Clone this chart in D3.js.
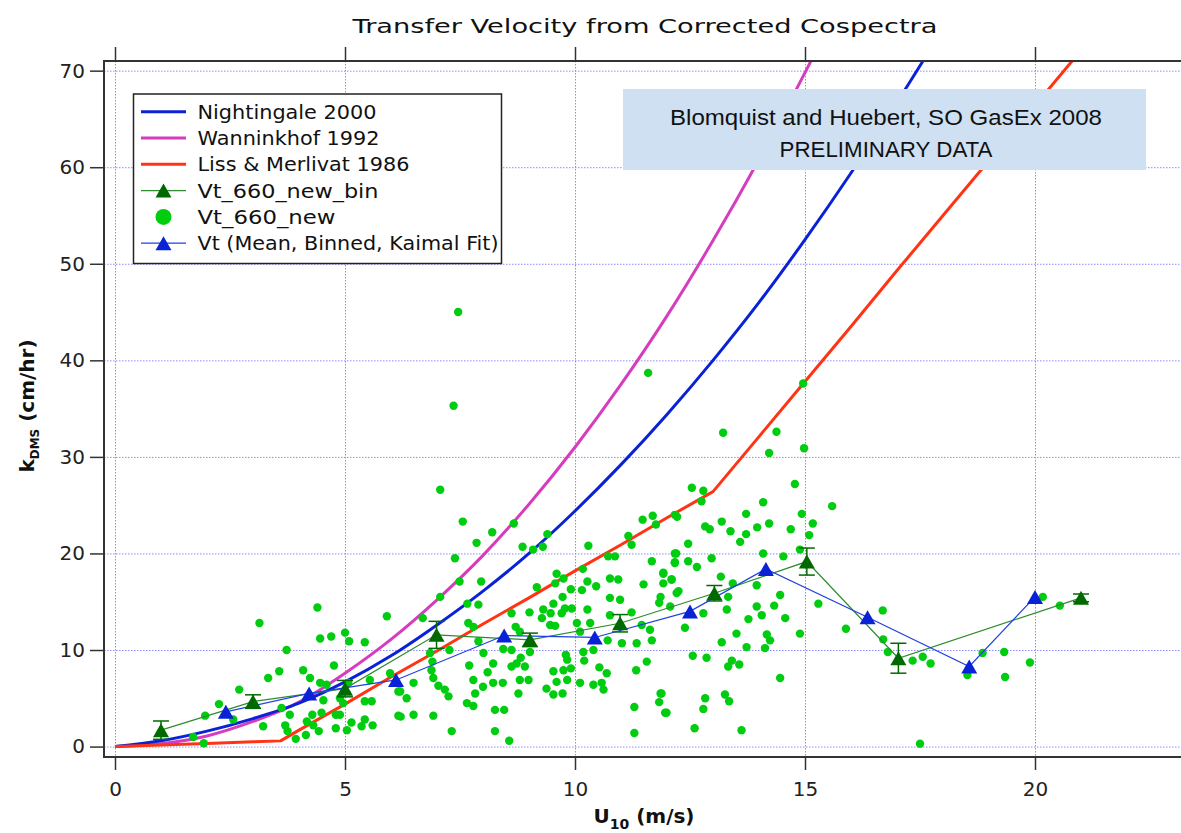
<!DOCTYPE html>
<html>
<head>
<meta charset="utf-8">
<script src="https://cdn.jsdelivr.net/npm/d3@7"></script>
<style>
  body { margin: 0; background: #fff; }
  svg { display: block; }
</style>
</head>
<body>
<div id="chart"></div>
<script>
// model curves (wind speed, k)
var nightingaleU = [0, 1, 2, 3, 4, 5, 6, 7, 8, 9, 10, 11, 12, 13, 14, 15, 16, 17, 17.5, 17.8];
var nightingaleK = [0, 0.6, 1.6, 2.9, 4.5, 6.7, 9.4, 12.6, 16.1, 20.0, 24.4, 29.2, 34.4, 40.0, 46.0, 52.5, 59.4, 66.7, 70.5, 72.8];
var wanninkhofU = [0, 1, 2, 3, 4, 5, 6, 7, 8, 9, 10, 11, 12, 13, 14, 15, 15.3];
var wanninkhofK = [0, 0.3, 1.1, 2.6, 4.6, 7.6, 11.1, 15.2, 19.8, 25.1, 31.0, 37.5, 44.6, 52.4, 60.8, 69.8, 72.6];
var lissU = [0, 1, 2, 3, 3.6, 4, 5, 6, 7, 8, 9, 10, 11, 12, 13, 14, 15, 16, 17, 18, 19, 20, 21];
var lissK = [0, 0.16, 0.33, 0.49, 0.59, 1.7, 4.4, 7.2, 9.9, 12.7, 15.4, 18.2, 20.9, 23.7, 26.4, 32.1, 37.8, 43.5, 49.3, 55.0, 60.7, 66.4, 72.1];

// Vt_660_new_bin (with error bars)
var binU = [1.0, 3.0, 5.0, 6.99, 9.02, 10.98, 13.03, 15.04, 17.03, 21.0];
var binK = [1.7, 4.66, 6.0, 11.57, 11.05, 12.77, 15.88, 19.16, 9.15, 15.4];
var binErr = [0.95, 0.7, 0.85, 1.4, 0.7, 0.9, 0.8, 1.4, 1.55, 0.4];

// Vt (Mean, Binned, Kaimal Fit)
var kaimalU = [2.41, 4.22, 6.11, 8.46, 10.43, 12.5, 14.15, 16.36, 18.57, 20.0];
var kaimalK = [3.6, 5.5, 6.9, 11.5, 11.3, 14.0, 18.4, 13.4, 8.3, 15.5];

// Vt_660_new scatter [U10, k]
var scatter = [
  [4.40,14.4],[3.14,12.8],[5.91,13.5],[5.00,11.8],[4.46,11.2],[4.70,11.4],[5.09,10.9],[5.43,10.8],
  [3.73,10.0],[4.76,8.4],[3.57,7.8],[3.33,7.1],[4.09,7.9],[4.24,7.1],[2.70,5.9],[2.26,4.4],
  [1.96,3.2],[2.57,2.8],[3.22,2.1],[3.62,4.0],[3.80,3.3],[3.70,2.2],[3.75,1.6],[3.93,0.8],
  [4.17,2.6],[4.15,1.2],[4.29,3.3],[4.31,2.2],[4.43,1.6],[4.49,3.5],[4.46,6.6],[4.60,6.4],
  [4.53,4.8],[4.89,5.0],[5.07,6.6],[4.96,4.5],[5.54,6.9],[5.58,4.7],[5.43,4.7],[4.80,3.3],
  [4.89,3.3],[5.14,2.5],[4.80,1.9],[5.04,1.7],[5.36,2.1],[5.43,2.8],[5.60,2.2],[6.16,5.7],
  [6.16,3.2],[1.70,1.0],[1.93,0.35],
  [7.07,26.6],[7.56,23.3],[8.20,22.2],[8.67,23.1],[7.86,21.1],[8.86,20.7],[9.09,20.4],[9.30,20.7],
  [9.40,22.0],[7.39,19.5],[7.49,17.1],[7.96,17.1],[7.07,15.5],[6.69,13.3],[7.66,14.8],[7.90,14.7],
  [7.79,12.4],[8.62,13.8],[9.01,13.9],[9.17,16.5],[9.31,14.2],[9.28,13.3],[9.57,16.9],[9.60,17.9],
  [9.75,17.4],[9.91,16.3],[9.73,15.5],[9.53,14.8],[9.47,13.8],[9.71,13.8],[9.78,14.3],[9.93,14.3],
  [9.57,12.5],[9.46,12.6],[8.71,12.4],[8.80,11.9],[10.04,12.8],[10.11,11.9],[10.33,12.8],[10.29,20.8],
  [10.17,18.4],[10.27,17.1],[10.46,16.6],[10.15,16.2],[10.27,14.2],[10.76,17.4],[10.94,17.3],[10.76,15.4],
  [10.98,15.2],[10.72,19.7],[10.87,19.7],[11.23,20.9],[11.16,21.8],[11.47,23.5],[11.69,23.9],[11.76,23.0],
  [12.17,24.0],[11.67,19.2],[11.49,16.8],[12.20,20.0],[12.17,19.0],[11.92,17.9],[12.10,17.3],[11.86,15.5],
  [11.83,14.9],[12.21,15.9],[11.23,13.9],[10.76,13.6],[11.45,12.6],[12.07,14.5],[11.63,12.1],[11.34,10.7],
  [11.67,11.0],[11.02,10.7],[10.71,11.0],[10.40,10.0],[10.18,9.8],[10.20,8.9],[9.80,9.5],[9.83,9.0],
  [9.91,8.1],[9.75,7.9],[9.53,7.8],[9.60,6.7],[9.83,6.9],[10.11,6.6],[10.40,6.4],[10.58,6.6],
  [10.62,5.9],[10.69,7.6],[10.53,8.2],[11.56,8.8],[11.33,7.9],[11.86,5.5],[11.83,4.6],[11.96,3.5],
  [11.29,4.1],[11.29,1.4],[9.73,5.5],[9.53,5.4],[9.38,6.0],[8.99,6.9],[8.80,6.9],[8.77,5.5],
  [8.91,8.3],[8.73,8.6],[8.62,8.3],[8.82,9.2],[8.62,10.0],[9.02,9.8],[8.44,10.1],[8.22,8.6],
  [8.10,7.7],[8.22,6.6],[8.43,6.6],[8.01,9.7],[7.90,10.9],[7.70,8.4],[7.79,6.9],[7.83,5.5],
  [8.00,6.2],[8.26,3.8],[8.46,3.8],[8.57,0.6],[8.26,1.6],[7.65,4.5],[7.79,4.2],[7.32,1.6],
  [7.25,5.2],[7.17,5.9],[7.03,6.3],[6.92,7.1],[6.88,7.9],[6.90,8.8],[6.85,9.7],[7.27,10.0],
  [6.49,6.6],[6.34,5.0],[6.20,5.7],[6.21,3.1],[6.49,3.3],[6.92,3.2],[5.98,7.6],[7.68,12.8],
  [7.46,45.0],[7.36,35.3],[11.59,38.7],
  [13.22,32.5],[14.38,32.6],[14.22,30.4],[14.98,30.9],[14.78,27.2],[12.54,26.8],[12.79,26.5],[12.75,25.4],
  [14.09,25.3],[15.59,24.9],[12.22,23.8],[13.72,24.1],[13.19,23.3],[14.93,24.1],[15.17,23.1],[12.83,22.8],
  [12.93,22.5],[13.38,22.3],[13.96,22.7],[14.22,23.1],[14.69,22.5],[15.09,21.9],[13.72,22.0],[13.59,21.2],
  [12.46,21.0],[12.17,20.0],[12.17,19.1],[12.46,19.2],[12.65,18.6],[12.97,19.5],[13.17,17.6],[13.43,16.9],
  [14.09,20.0],[14.53,19.7],[14.89,20.4],[11.92,18.0],[11.92,16.9],[12.10,17.3],[12.25,16.1],[12.79,13.8],
  [13.30,14.2],[13.33,15.5],[13.95,16.7],[13.95,14.5],[14.06,13.6],[14.57,13.3],[14.46,15.7],[14.33,14.6],
  [13.77,13.2],[14.17,11.6],[14.24,11.0],[14.13,10.2],[13.73,10.3],[13.51,11.7],[13.19,10.8],[14.89,11.7],
  [12.56,9.4],[12.86,9.2],[12.39,12.3],[13.41,8.9],[13.33,8.3],[13.57,8.5],[14.46,7.1],[13.26,5.4],
  [13.35,4.7],[12.83,5.0],[12.79,3.9],[11.88,5.5],[11.99,3.5],[12.60,1.9],[13.62,1.7],[15.29,14.8],
  [15.89,12.2],[16.69,14.1],[16.70,11.1],[16.80,9.8],[17.34,8.9],[17.56,9.3],[17.73,8.6],[17.50,0.3],
  [18.53,7.4],[18.86,9.7],[19.33,9.8],[19.35,7.2],[19.89,8.7],[20.17,15.5],[20.54,14.6],[14.96,37.6]
];

var xTicks = [0, 5, 10, 15, 20];
var yTicks = [0, 10, 20, 30, 40, 50, 60, 70];

var legendItems = [
  { label: 'Nightingale 2000', kind: 'line', color: '#0a22d6' },
  { label: 'Wanninkhof 1992', kind: 'line', color: '#d63cbe' },
  { label: 'Liss & Merlivat 1986', kind: 'line', color: '#ff3414' },
  { label: 'Vt_660_new_bin', kind: 'tri', color: '#006a00', lineColor: '#2e8b2e' },
  { label: 'Vt_660_new', kind: 'dot', color: '#00cc10' },
  { label: 'Vt (Mean, Binned, Kaimal Fit)', kind: 'tri', color: '#0a22d6', lineColor: '#2040e0' }
];
var legendWidths = [179, 182, 212, 181, 138, 301];

var W = 1181, H = 833;
var frame = { left: 104, top: 61, right: 1186, bottom: 757 };
var font = '"DejaVu Sans", Verdana, sans-serif';

var svg = d3.select('#chart').append('svg')
  .attr('width', W).attr('height', H)
  .attr('viewBox', `0 0 ${W} ${H}`);

svg.append('rect').attr('width', W).attr('height', H).attr('fill', '#fff');

var x = d3.scaleLinear().domain([-11 / 46, (frame.right - 115) / 46]).range([frame.left, frame.right]);
var y = d3.scaleLinear().domain([-1.08, 71.0]).range([frame.bottom, frame.top]);

svg.append('clipPath').attr('id', 'plotclip')
  .append('rect')
  .attr('x', frame.left).attr('y', frame.top)
  .attr('width', frame.right - frame.left).attr('height', frame.bottom - frame.top);

// dotted grid
var grid = svg.append('g').attr('stroke', '#8c8cff').attr('stroke-width', 1).attr('stroke-dasharray', '1.5,1.5');
grid.selectAll('line.gx').data(xTicks).enter().append('line')
  .attr('x1', d => x(d) + 0.5).attr('x2', d => x(d) + 0.5)
  .attr('y1', frame.top).attr('y2', frame.bottom);
grid.selectAll('line.gy').data(yTicks).enter().append('line')
  .attr('y1', d => y(d) + 0.5).attr('y2', d => y(d) + 0.5)
  .attr('x1', frame.left).attr('x2', frame.right);

var plot = svg.append('g').attr('clip-path', 'url(#plotclip)');

function curve(us, ks, color, smooth) {
  var pts = us.map((u, i) => [u, ks[i]]);
  var line = d3.line().x(d => x(d[0])).y(d => y(d[1]))
    .curve(smooth ? d3.curveMonotoneX : d3.curveLinear);
  plot.append('path').datum(pts)
    .attr('d', line)
    .attr('fill', 'none')
    .attr('stroke', color)
    .attr('stroke-width', 3)
    .attr('stroke-linejoin', 'round');
}

curve(wanninkhofU, wanninkhofK, legendItems[1].color, true);
curve(nightingaleU, nightingaleK, legendItems[0].color, true);
curve(lissU, lissK, legendItems[2].color, false);

// scatter
plot.append('g').selectAll('circle').data(scatter).enter().append('circle')
  .attr('cx', d => x(d[0])).attr('cy', d => y(d[1]))
  .attr('r', 4.2)
  .attr('fill', legendItems[4].color);

var tri = d3.symbol().type(d3.symbolTriangle);
function triPath(w, h) {
  return `M0,${-h / 2}L${w / 2},${h / 2}L${-w / 2},${h / 2}Z`;
}

// binned series with error bars
var binPts = binU.map((u, i) => ({ u: u, k: binK[i], e: binErr[i] }));
var eb = plot.append('g').attr('stroke', legendItems[3].color).attr('stroke-width', 1.5);
binPts.forEach(function(d) {
  eb.append('line').attr('x1', x(d.u)).attr('x2', x(d.u)).attr('y1', y(d.k + d.e)).attr('y2', y(d.k - d.e));
  eb.append('line').attr('x1', x(d.u) - 8).attr('x2', x(d.u) + 8).attr('y1', y(d.k + d.e)).attr('y2', y(d.k + d.e));
  eb.append('line').attr('x1', x(d.u) - 8).attr('x2', x(d.u) + 8).attr('y1', y(d.k - d.e)).attr('y2', y(d.k - d.e));
});
plot.append('path').datum(binPts)
  .attr('d', d3.line().x(d => x(d.u)).y(d => y(d.k)))
  .attr('fill', 'none').attr('stroke', legendItems[3].lineColor).attr('stroke-width', 1.2);

var kaiPts = kaimalU.map((u, i) => ({ u: u, k: kaimalK[i] }));
plot.append('path').datum(kaiPts)
  .attr('d', d3.line().x(d => x(d.u)).y(d => y(d.k)))
  .attr('fill', 'none').attr('stroke', legendItems[5].lineColor).attr('stroke-width', 1.2);

plot.append('g').selectAll('path').data(binPts).enter().append('path')
  .attr('d', triPath(16, 14))
  .attr('transform', d => `translate(${x(d.u)},${y(d.k)})`)
  .attr('fill', legendItems[3].color);

plot.append('g').selectAll('path').data(kaiPts).enter().append('path')
  .attr('d', triPath(16, 14))
  .attr('transform', d => `translate(${x(d.u)},${y(d.k)})`)
  .attr('fill', legendItems[5].color);

// annotation box
svg.append('rect')
  .attr('x', 623).attr('y', 89).attr('width', 523).attr('height', 81)
  .attr('fill', '#cfe0f2');
var note = svg.append('g').attr('font-family', '"Liberation Sans", Arial, sans-serif').attr('font-size', 22).attr('fill', '#111').attr('text-anchor', 'middle');
note.append('text').attr('x', 886).attr('y', 125).attr('textLength', 432).attr('lengthAdjust', 'spacingAndGlyphs')
  .text('Blomquist and Huebert, SO GasEx 2008');
note.append('text').attr('x', 886).attr('y', 157).attr('textLength', 213).attr('lengthAdjust', 'spacingAndGlyphs')
  .text('PRELIMINARY DATA');

// frame
svg.append('rect')
  .attr('x', frame.left).attr('y', frame.top)
  .attr('width', frame.right - frame.left).attr('height', frame.bottom - frame.top)
  .attr('fill', 'none').attr('stroke', '#333').attr('stroke-width', 2);

// axes
var axL = svg.append('g').attr('transform', `translate(${frame.left},0)`)
  .call(d3.axisLeft(y).tickValues(yTicks).tickSize(14).tickPadding(5).tickFormat(d3.format('d')));
var axB = svg.append('g').attr('transform', `translate(0,${frame.bottom})`)
  .call(d3.axisBottom(x).tickValues(xTicks).tickSize(13).tickPadding(12).tickFormat(d3.format('d')));
var axT = svg.append('g').attr('transform', `translate(0,${frame.top})`)
  .call(d3.axisTop(x).tickValues(xTicks).tickSize(14).tickFormat(''));
[axL, axB, axT].forEach(function(a) {
  a.select('.domain').remove();
  a.selectAll('.tick line').attr('stroke', '#333').attr('stroke-width', 1.5);
  a.selectAll('.tick text').attr('font-family', font).attr('font-size', 20).attr('fill', '#222');
});

// title
svg.append('text')
  .attr('x', 645).attr('y', 33)
  .attr('text-anchor', 'middle')
  .attr('font-family', font).attr('font-size', 20).attr('fill', '#111')
  .attr('textLength', 585).attr('lengthAdjust', 'spacingAndGlyphs')
  .text('Transfer Velocity from Corrected Cospectra');

// axis titles
var xt = svg.append('text')
  .attr('x', 644).attr('y', 823)
  .attr('text-anchor', 'middle')
  .attr('font-family', font).attr('font-size', 20).attr('font-weight', 'bold').attr('fill', '#111');
xt.append('tspan').text('U');
xt.append('tspan').attr('font-size', 14).attr('dy', 6).text('10');
xt.append('tspan').attr('dy', -6).text(' (m/s)');

var yt = svg.append('text')
  .attr('transform', 'translate(34,406) rotate(-90)')
  .attr('text-anchor', 'middle')
  .attr('font-family', font).attr('font-size', 20).attr('font-weight', 'bold').attr('fill', '#111');
yt.append('tspan').text('k');
yt.append('tspan').attr('font-size', 12).attr('dy', 5).text('DMS');
yt.append('tspan').attr('dy', -5).text(' (cm/hr)');

// legend
var lg = svg.append('g');
lg.append('rect')
  .attr('x', 133.5).attr('y', 94).attr('width', 368).attr('height', 169.5)
  .attr('fill', '#fff').attr('stroke', '#222').attr('stroke-width', 1.5);
legendItems.forEach(function(d, i) {
  var cy = 111.7 + i * 26.3;
  var g = lg.append('g');
  if (d.kind === 'line') {
    g.append('line').attr('x1', 141).attr('x2', 186).attr('y1', cy).attr('y2', cy)
      .attr('stroke', d.color).attr('stroke-width', 3);
  } else if (d.kind === 'tri') {
    g.append('line').attr('x1', 141).attr('x2', 186).attr('y1', cy).attr('y2', cy)
      .attr('stroke', d.lineColor).attr('stroke-width', 1.2);
    g.append('path').attr('d', triPath(16, 14)).attr('transform', `translate(163.5,${cy})`).attr('fill', d.color);
  } else {
    g.append('circle').attr('cx', 163.5).attr('cy', cy).attr('r', 8).attr('fill', d.color);
  }
  g.append('text').attr('x', 197.5).attr('y', cy + 7)
    .attr('font-family', font).attr('font-size', 20).attr('fill', '#111')
    .attr('textLength', legendWidths[i]).attr('lengthAdjust', 'spacingAndGlyphs')
    .text(d.label);
});
</script>
</body>
</html>
